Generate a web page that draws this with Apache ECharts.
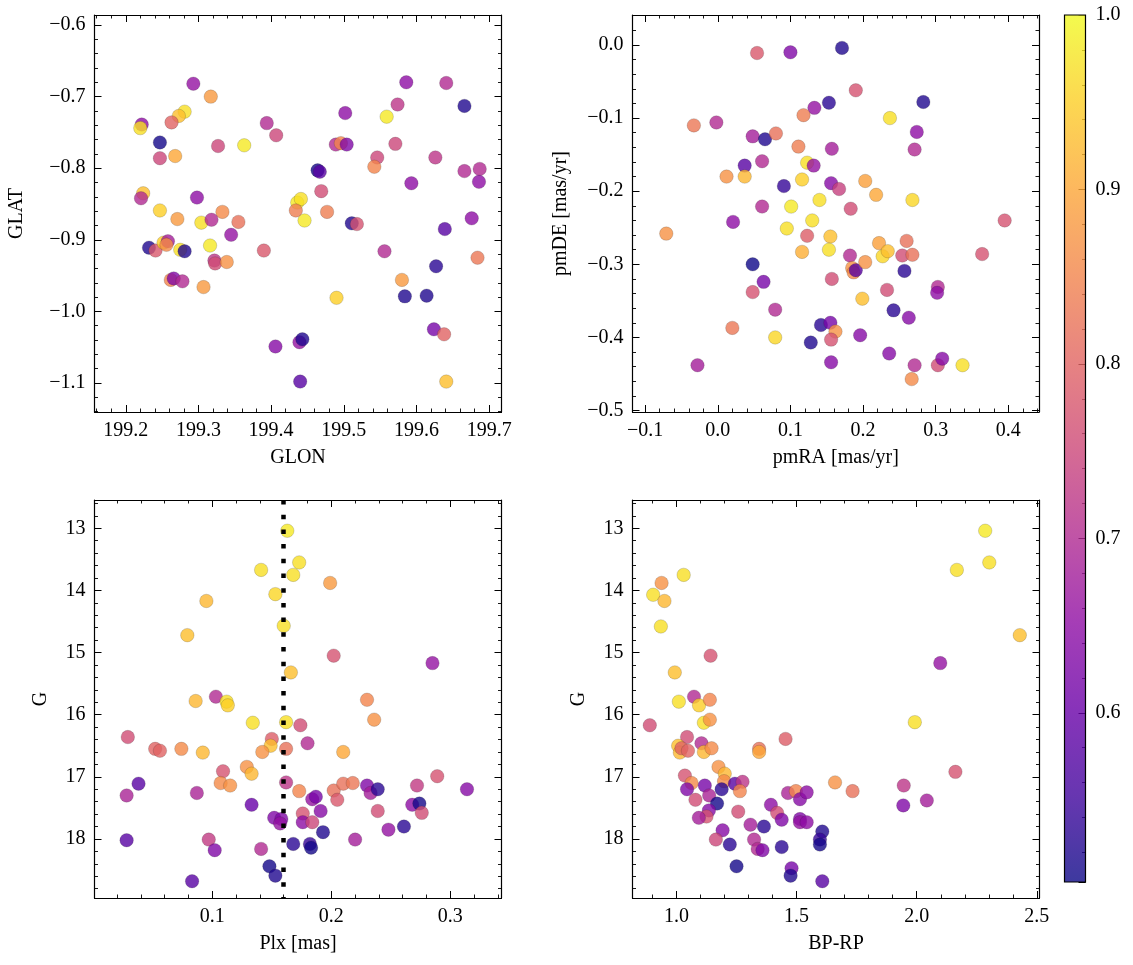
<!DOCTYPE html>
<html><head><meta charset="utf-8">
<script src="https://cdn.jsdelivr.net/npm/echarts@6/dist/echarts.min.js"></script>
<style>html,body{margin:0;padding:0;background:#fff}#c{width:1133px;height:965px}</style>
</head><body><div id="c"></div>
<script>
// ---------- data: Galactic coordinates ----------
const GLON = [199.293,199.317,199.281,199.273,199.263,199.222,199.220,199.247,199.247,199.268,
199.327,199.363,199.394,199.407,199.224,199.221,199.298,199.247,199.333,199.436,
199.441,199.434,199.586,199.641,199.666,199.574,199.559,199.502,199.489,199.496,
199.504,199.571,199.546,199.542,199.626,199.464,199.467,199.469,199.593,199.666,
199.687,199.686,199.477,199.271,199.304,199.318,199.355,199.345,199.232,199.241,
199.252,199.258,199.256,199.275,199.281,199.316,199.322,199.323,199.339,199.390,
199.262,199.266,199.278,199.307,199.406,199.446,199.511,199.518,199.556,199.676,
199.639,199.684,199.627,199.580,199.584,199.614,199.490,199.624,199.638,199.439,
199.443,199.440,199.641];
const GLAT = [-0.682,-0.700,-0.721,-0.727,-0.736,-0.739,-0.744,-0.764,-0.786,-0.783,
-0.769,-0.768,-0.737,-0.754,-0.835,-0.842,-0.841,-0.859,-0.861,-0.848,
-0.843,-0.859,-0.680,-0.681,-0.713,-0.711,-0.728,-0.723,-0.767,-0.765,
-0.767,-0.766,-0.785,-0.798,-0.785,-0.803,-0.805,-0.832,-0.821,-0.804,
-0.801,-0.819,-0.861,-0.871,-0.876,-0.872,-0.875,-0.893,-0.911,-0.915,
-0.904,-0.902,-0.907,-0.914,-0.916,-0.908,-0.929,-0.933,-0.931,-0.915,
-0.956,-0.954,-0.958,-0.966,-1.049,-0.873,-0.877,-0.878,-0.916,-0.870,
-0.885,-0.925,-0.937,-0.956,-0.979,-0.978,-0.981,-1.025,-1.032,-1.043,
-1.039,-1.098,-1.098];
const P_GAL = [0.66,0.88,0.97,0.93,0.80,0.65,0.97,0.51,0.75,0.90,
0.75,0.98,0.70,0.75,0.93,0.70,0.65,0.95,0.86,0.98,
0.97,0.84,0.65,0.70,0.52,0.72,0.98,0.65,0.70,0.85,
0.63,0.75,0.75,0.85,0.72,0.51,0.58,0.76,0.65,0.70,
0.70,0.65,0.84,0.88,0.97,0.70,0.82,0.66,0.52,0.78,
0.95,0.68,0.86,0.97,0.52,0.98,0.72,0.76,0.87,0.78,
0.85,0.63,0.70,0.88,0.64,0.98,0.52,0.77,0.70,0.65,
0.58,0.83,0.53,0.88,0.52,0.52,0.95,0.62,0.80,0.66,
0.52,0.58,0.93];

// ---------- data: proper motions ----------
const PMRA = [0.054,0.100,-0.033,-0.002,0.133,0.118,0.048,0.065,0.080,0.111,
0.037,0.061,0.012,0.037,0.123,0.132,0.116,0.091,0.061,0.101,
0.140,0.130,0.021,0.171,0.190,0.153,0.283,0.237,0.274,0.271,
0.157,0.156,0.167,0.203,0.218,0.183,0.268,0.395,-0.071,0.095,
0.123,0.116,0.048,0.063,0.048,0.079,0.020,0.079,0.128,0.142,
-0.028,0.155,0.153,0.182,0.185,0.187,0.190,0.203,0.222,0.227,
0.234,0.254,0.260,0.268,0.257,0.364,0.157,0.233,0.199,0.303,
0.302,0.242,0.263,0.155,0.162,0.156,0.196,0.156,0.236,0.271,
0.303,0.309,0.337,0.267];
const PMDE = [-0.011,-0.010,-0.110,-0.106,-0.086,-0.096,-0.125,-0.129,-0.121,-0.139,
-0.165,-0.159,-0.180,-0.180,-0.161,-0.165,-0.184,-0.193,-0.221,-0.221,
-0.212,-0.240,-0.242,-0.004,-0.062,-0.079,-0.078,-0.100,-0.119,-0.143,
-0.142,-0.189,-0.197,-0.186,-0.205,-0.224,-0.212,-0.240,-0.258,-0.251,
-0.261,-0.283,-0.300,-0.324,-0.338,-0.362,-0.387,-0.400,-0.407,-0.383,
-0.438,-0.262,-0.280,-0.288,-0.305,-0.311,-0.308,-0.297,-0.271,-0.289,
-0.282,-0.288,-0.268,-0.287,-0.309,-0.286,-0.320,-0.335,-0.347,-0.331,
-0.339,-0.363,-0.373,-0.380,-0.392,-0.403,-0.397,-0.434,-0.422,-0.438,
-0.438,-0.429,-0.438,-0.457];
const P_PM = [0.78,0.63,0.83,0.70,0.66,0.84,0.68,0.52,0.82,0.84,
0.58,0.70,0.87,0.92,0.97,0.66,0.95,0.54,0.70,0.98,
0.97,0.97,0.65,0.52,0.77,0.53,0.52,0.97,0.65,0.70,
0.68,0.64,0.74,0.89,0.90,0.76,0.96,0.77,0.87,0.97,
0.79,0.91,0.505,0.62,0.77,0.70,0.83,0.96,0.52,0.53,
0.68,0.93,0.97,0.70,0.87,0.86,0.58,0.87,0.89,0.96,
0.93,0.76,0.82,0.82,0.53,0.77,0.76,0.76,0.93,0.70,
0.65,0.53,0.64,0.62,0.87,0.77,0.64,0.64,0.64,0.70,
0.76,0.64,0.97,0.86];

// ---------- data: parallax vs G ----------
const PLX = [0.163,0.141,0.153,0.095,0.160,0.079,0.166,0.103,0.086,0.112,
0.113,0.134,0.162,0.029,0.052,0.056,0.074,0.092,0.150,0.149,
0.142,0.162,0.109,0.107,0.115,0.129,0.133,0.162,0.038,0.028,
0.087,0.133,0.152,0.158,0.157,0.028,0.097,0.102,0.141,0.168,
0.148,0.153,0.083,0.173,0.168,0.199,0.202,0.285,0.230,0.236,
0.174,0.180,0.210,0.173,0.202,0.205,0.210,0.218,0.230,0.233,
0.239,0.272,0.289,0.314,0.184,0.187,0.191,0.176,0.176,0.184,
0.239,0.268,0.274,0.276,0.193,0.248,0.261,0.220,0.182,0.183];
const G_PLX = [13.04,13.67,14.06,14.17,14.57,14.72,15.32,15.71,15.78,15.79,
15.85,16.13,16.12,16.36,16.55,16.58,16.55,16.61,16.39,16.50,
16.60,16.55,16.91,17.10,17.14,16.84,16.95,17.09,17.11,17.30,
17.26,17.45,17.66,17.68,17.75,18.02,18.01,18.18,18.16,18.08,
18.44,18.59,18.68,13.55,13.75,13.88,15.05,15.17,15.76,16.08,
16.17,16.46,16.60,17.23,17.22,17.37,17.11,17.10,17.14,17.26,
17.20,17.14,16.99,17.20,17.36,17.32,17.55,17.59,17.73,17.73,
17.55,17.45,17.43,17.58,17.89,17.85,17.80,18.01,18.08,18.14];
const P_PLX = [0.98,0.97,0.96,0.92,0.97,0.93,0.93,0.70,0.92,0.97,
0.95,0.97,0.97,0.76,0.80,0.80,0.86,0.92,0.79,0.93,
0.87,0.82,0.77,0.86,0.87,0.87,0.92,0.72,0.58,0.69,
0.69,0.60,0.63,0.63,0.66,0.58,0.73,0.63,0.70,0.53,
0.51,0.52,0.58,0.97,0.97,0.88,0.77,0.66,0.85,0.87,
0.76,0.70,0.90,0.85,0.82,0.78,0.82,0.83,0.63,0.68,
0.53,0.73,0.77,0.64,0.66,0.62,0.64,0.77,0.65,0.75,
0.76,0.65,0.51,0.76,0.52,0.66,0.53,0.68,0.54,0.51];
const PLX_CUT = 0.163;

// ---------- data: colour-magnitude ----------
const BPRP = [1.030,0.938,0.903,0.950,0.935,1.142,0.993,1.073,1.010,1.094,
1.139,1.114,1.139,0.889,1.044,1.007,1.014,1.021,1.048,1.104,
1.114,1.146,1.344,1.344,1.454,1.175,1.201,1.198,1.035,1.063,
1.044,1.118,1.136,1.188,1.079,1.169,1.243,1.275,1.264,1.135,
1.125,1.093,1.257,1.192,1.164,1.222,1.250,1.308,1.364,1.323,
1.338,1.358,1.393,1.419,1.438,1.438,1.464,1.497,1.514,1.542,
1.514,1.514,1.542,1.479,1.475,1.607,1.597,1.597,1.607,1.660,
2.285,2.302,2.167,2.429,2.098,1.992,2.161,1.733,1.946,1.944,
2.042];
const G_CMD = [13.75,13.88,14.07,14.17,14.58,15.05,15.32,15.71,15.79,15.85,
15.76,16.13,16.08,16.17,16.36,16.50,16.61,16.54,16.58,16.46,
16.60,16.54,16.55,16.60,16.39,16.84,16.95,17.07,16.98,17.10,
17.20,17.14,17.30,17.20,17.37,17.43,17.11,17.08,17.23,17.54,
17.64,17.66,17.56,17.86,18.01,18.09,18.44,17.77,17.80,18.01,
18.16,18.18,17.45,17.58,17.69,18.13,17.26,17.23,17.36,17.25,
17.68,17.73,17.73,18.47,18.59,17.88,18.01,18.09,18.68,17.09,
13.04,13.55,13.67,14.72,15.17,16.12,16.92,17.23,17.14,17.46,
17.38];
const P_CMD = [0.97,0.87,0.97,0.92,0.97,0.77,0.93,0.70,0.97,0.95,
0.85,0.97,0.87,0.76,0.76,0.93,0.92,0.80,0.80,0.70,
0.92,0.86,0.82,0.90,0.79,0.87,0.92,0.86,0.77,0.86,
0.63,0.62,0.69,0.53,0.76,0.51,0.58,0.72,0.85,0.64,
0.77,0.68,0.76,0.64,0.75,0.53,0.51,0.68,0.53,0.70,
0.70,0.63,0.65,0.76,0.63,0.53,0.69,0.85,0.64,0.65,
0.63,0.66,0.65,0.62,0.52,0.52,0.54,0.51,0.58,0.87,
0.98,0.97,0.97,0.93,0.66,0.97,0.77,0.82,0.72,0.63,
0.68];

// ---------- colour bar ----------
const CBAR_RANGE = [0.503, 1.0];
const CBAR_TICKS = [0.6, 0.7, 0.8, 0.9, 1.0];
const PLASMA = ['#0d0887','#41049d','#6a00a8','#8f0da4','#b12a90','#cc4778',
                '#e16462','#f2844b','#fca636','#fcce25','#f0f921'];

// ---------- styling / layout ----------
const FONT = 'Liberation Serif';
const FS = 20;
const GRIDS = [
  {left:94.5,  top:15,  width:407,   height:397},
  {left:632.5, top:15,  width:406.5, height:397},
  {left:94.5,  top:500, width:407,   height:398},
  {left:632.5, top:500, width:407,   height:398},
  {left:1064.5,top:15,  width:21,    height:867}
];
const PANELS = [
  {x:[199.157,199.717], xMaj:0.1, xMin:0.02, xDec:1, y:[-1.1405,-0.586], yMaj:0.1, yMin:0.02, yDec:1,
   inv:false, xName:'GLON', yName:'GLAT', xGap:36, yGap:68, X:GLON, Y:GLAT, P:P_GAL},
  {x:[-0.1175,0.4423], xMaj:0.1, xMin:0.02, xDec:1, y:[-0.502,0.041], yMaj:0.1, yMin:0.02, yDec:1,
   inv:false, xName:'pmRA [mas/yr]', yName:'pmDE [mas/yr]', xGap:36, yGap:62, X:PMRA, Y:PMDE, P:P_PM},
  {x:[0.001,0.343], xMaj:0.1, xMin:0.02, xDec:1, y:[12.545,18.95], yMaj:1, yMin:0.2, yDec:0,
   inv:true, xName:'Plx [mas]', yName:'G', xGap:36, yGap:44, X:PLX, Y:G_PLX, P:P_PLX},
  {x:[0.817,2.511], xMaj:0.5, xMin:0.1, xDec:1, y:[12.545,18.95], yMaj:1, yMin:0.2, yDec:0,
   inv:true, xName:'BP-RP', yName:'G', xGap:36, yGap:44, X:BPRP, Y:G_CMD, P:P_CMD}
];

function fmt(dec, step) {
  return function (v) {
    const k = v / step;
    if (Math.abs(k - Math.round(k)) > 1e-6) return '';
    if (Math.abs(v) < 1e-9) v = 0;
    return v.toFixed(dec).replace('-', '\u2212');
  };
}
const TXT = {color:'#000', fontFamily:FONT, fontSize:FS};
const tickMaj = {show:true, inside:true, length:7, lineStyle:{color:'#000', width:1}};
const tickMin = {show:true, inside:true, length:3.5, lineStyle:{color:'#000', width:0.9}};
const lineOn  = {show:true, onZero:false, lineStyle:{color:'#000', width:1.2}};
const lineOff = {show:false, onZero:false};

function axis(gi, pos, range, step, opts) {
  return Object.assign({
    type:'value', gridIndex:gi, position:pos, min:range[0], max:range[1],
    minInterval:step, maxInterval:step, splitLine:{show:false},
    axisLine:lineOff, axisTick:tickMin, axisLabel:{show:false}
  }, opts || {});
}

const xAxes = [], yAxes = [], series = [];
PANELS.forEach(function (s, gi) {
  const xl = Object.assign({show:true, margin:9, formatter:fmt(s.xDec, s.xMaj), hideOverlap:false}, TXT);
  const yl = Object.assign({show:true, margin:9, formatter:fmt(s.yDec, s.yMaj), hideOverlap:false}, TXT);
  xAxes.push(
    axis(gi, 'bottom', s.x, s.xMaj, {axisLine:lineOn, axisTick:tickMaj, axisLabel:xl,
      name:s.xName, nameLocation:'middle', nameGap:s.xGap, nameTextStyle:TXT}),
    axis(gi, 'bottom', s.x, s.xMin),
    axis(gi, 'top', s.x, s.xMaj, {axisLine:lineOn, axisTick:tickMaj}),
    axis(gi, 'top', s.x, s.xMin)
  );
  yAxes.push(
    axis(gi, 'left', s.y, s.yMaj, {inverse:s.inv, axisLine:lineOn, axisTick:tickMaj, axisLabel:yl,
      name:s.yName, nameLocation:'middle', nameGap:s.yGap, nameRotate:90, nameTextStyle:TXT}),
    axis(gi, 'left', s.y, s.yMin, {inverse:s.inv}),
    axis(gi, 'right', s.y, s.yMaj, {inverse:s.inv, axisLine:lineOn, axisTick:tickMaj}),
    axis(gi, 'right', s.y, s.yMin, {inverse:s.inv})
  );
  const n = Math.min(s.X.length, s.Y.length, s.P.length);
  const data = [];
  for (let i = 0; i < n; i++) data.push([s.X[i], s.Y[i], s.P[i]]);
  const ser = {
    type:'scatter', xAxisIndex:gi*4, yAxisIndex:gi*4, data:data, symbolSize:13.5,
    itemStyle:{opacity:0.8, borderColor:'rgba(30,30,30,0.55)', borderWidth:0.4},
    emphasis:{disabled:true}, animation:false
  };
  if (gi === 2) {
    ser.markLine = {
      silent:true, symbol:['none','none'], animation:false,
      label:{show:false},
      lineStyle:{color:'#000', width:4.5, type:[4.5,10.2], opacity:1},
      data:[{xAxis:PLX_CUT}]
    };
  }
  series.push(ser);
});

// colour bar grid (index 4)
xAxes.push({type:'value', gridIndex:4, min:0, max:1, show:false});
yAxes.push(
  axis(4, 'right', CBAR_RANGE, 0.1, {axisTick:tickMaj,
    axisLabel:Object.assign({show:true, margin:10, hideOverlap:false, formatter:function (v) {
      return CBAR_TICKS.some(function (t) { return Math.abs(t - v) < 1e-6; }) ? v.toFixed(1) : '';
    }}, TXT)}),
  axis(4, 'right', CBAR_RANGE, 0.02)
);
const stops = PLASMA.map(function (c, i) { return {offset:i / (PLASMA.length - 1), color:c}; });
series.push({
  type:'custom', xAxisIndex:16, yAxisIndex:16, silent:true, animation:false, z:1,
  data:[[CBAR_RANGE[0], CBAR_RANGE[1]]],
  renderItem:function (params, api) {
    const p0 = api.coord([0, api.value(0)]);
    const p1 = api.coord([1, api.value(1)]);
    const shape = {x:p0[0], y:p1[1], width:p1[0] - p0[0], height:p0[1] - p1[1]};
    return {type:'group', children:[
      {type:'rect', shape:shape, style:{fill:new echarts.graphic.LinearGradient(0, 1, 0, 0, stops), opacity:0.8}},
      {type:'rect', shape:shape, style:{fill:'none', stroke:'#000', lineWidth:1.2}}
    ]};
  }
});

const chart = echarts.init(document.getElementById('c'), null, {renderer:'canvas'});
chart.setOption({
  backgroundColor:'#fff',
  animation:false,
  grid:GRIDS.map(function (g) { return Object.assign({containLabel:false}, g); }),
  xAxis:xAxes,
  yAxis:yAxes,
  visualMap:{type:'continuous', show:false, seriesIndex:[0,1,2,3], dimension:2,
             min:CBAR_RANGE[0], max:CBAR_RANGE[1], inRange:{color:PLASMA}},
  series:series
});
</script>
</body></html>
